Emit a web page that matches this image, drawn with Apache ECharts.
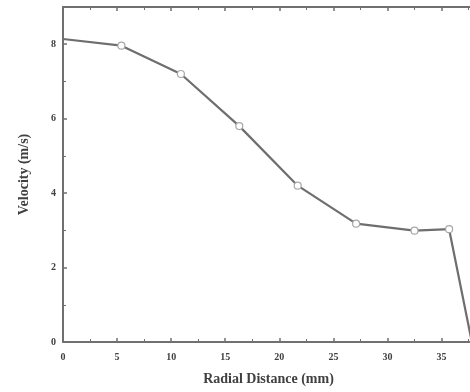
<!DOCTYPE html>
<html><head><meta charset="utf-8">
<script src="https://cdn.jsdelivr.net/npm/echarts@6/dist/echarts.min.js"></script>
<style>html,body{margin:0;padding:0;background:#fff}#c{width:470px;height:392px}</style>
</head><body><div id="c"></div>
<script>
var radialDistance = [0, 5.4, 10.9, 16.3, 21.7, 27.1, 32.5, 35.7, 37.8];
var velocity = [8.14, 7.96, 7.2, 5.8, 4.2, 3.18, 2.99, 3.03, 0];
var xTitle = 'Radial Distance (mm)';
var yTitle = 'Velocity (m/s)';

var pts = radialDistance.map(function (x, i) {
  var d = { value: [x, velocity[i]] };
  if (i === 0 || i === radialDistance.length - 1) d.symbol = 'none';
  return d;
});
var axCol = '#707070';
var font = 'Liberation Serif';
var chart = echarts.init(document.getElementById('c'));
var xBase = {
  type: 'value', min: 0, max: 38, interval: 5,
  axisLine: { show: true, onZero: false, lineStyle: { color: axCol, width: 2 } },
  axisTick: { show: true, inside: true, length: 4, lineStyle: { color: axCol, width: 1.5 } },
  minorTick: { show: true, splitNumber: 2, length: 3, lineStyle: { color: axCol, width: 1 } },
  splitLine: { show: false }
};
var yBase = {
  type: 'value', min: 0, max: 9, interval: 2,
  axisLine: { show: true, onZero: false, lineStyle: { color: axCol, width: 2 } },
  axisTick: { show: true, inside: true, length: 4, lineStyle: { color: axCol, width: 1.5 } },
  minorTick: { show: true, splitNumber: 2, length: 3, lineStyle: { color: axCol, width: 1 } },
  splitLine: { show: false }
};
function merge(a, b) { return Object.assign({}, a, b); }
chart.setOption({
  animation: false,
  grid: { left: 63, top: 7, width: 411, height: 335, outerBoundsMode: 'none', containLabel: false },
  xAxis: [
    merge(xBase, {
      position: 'bottom',
      name: xTitle, nameLocation: 'middle', nameGap: 30,
      nameTextStyle: { fontFamily: font, fontWeight: 'bold', fontSize: 14, color: '#404040' },
      axisLabel: { fontFamily: font, fontWeight: 'bold', fontSize: 10, color: '#404040', margin: 10,
        formatter: function (v) { return v > 36 ? '' : v; } }
    }),
    merge(xBase, { position: 'top', axisLabel: { show: false } })
  ],
  yAxis: [
    merge(yBase, {
      position: 'left',
      name: yTitle, nameLocation: 'middle', nameGap: 32,
      nameTextStyle: { fontFamily: font, fontWeight: 'bold', fontSize: 14, color: '#404040' },
      axisLabel: { fontFamily: font, fontWeight: 'bold', fontSize: 10, color: '#404040', margin: 7,
        formatter: function (v) { return v > 8 ? '' : v; } }
    }),
    merge(yBase, { position: 'right', axisLabel: { show: false } })
  ],
  series: [{
    type: 'line', xAxisIndex: 0, yAxisIndex: 0,
    data: pts,
    symbol: 'circle', symbolSize: 7,
    lineStyle: { color: '#6e6e6e', width: 2.2 },
    itemStyle: { color: '#ffffff', borderColor: '#a8a8a8', borderWidth: 1.2 }
  }]
});
</script></body></html>
